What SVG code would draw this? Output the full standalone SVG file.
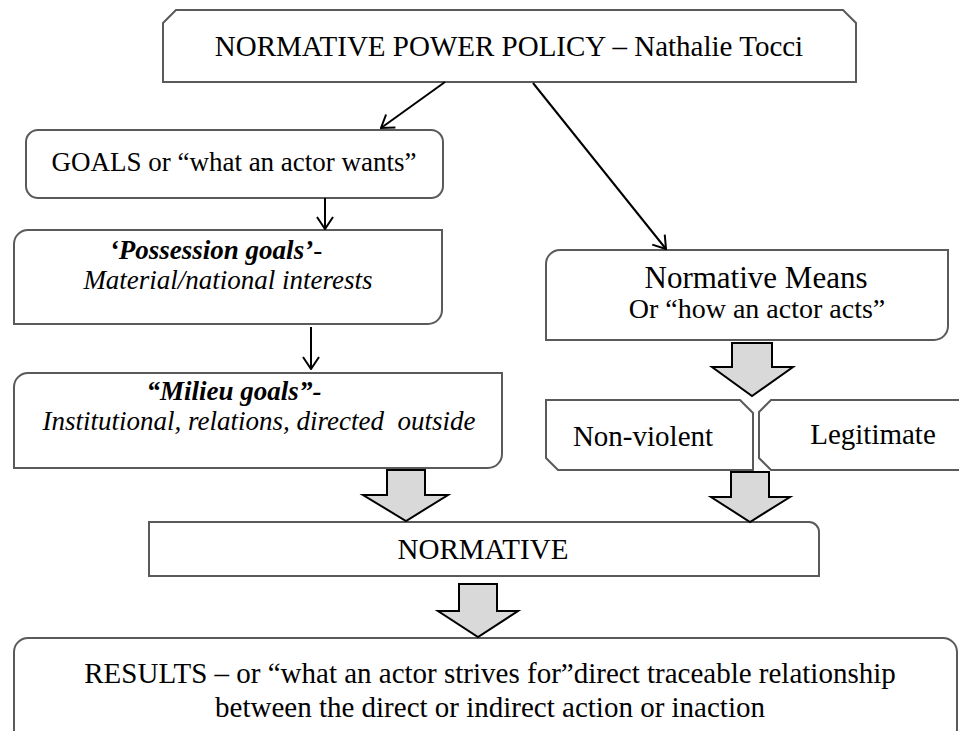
<svg xmlns="http://www.w3.org/2000/svg" width="959" height="731" viewBox="0 0 959 731">
<style>
.box{fill:#ffffff;stroke:#5a5a5a;stroke-width:2}
.blk{fill:#d9d9d9;stroke:#000000;stroke-width:2;stroke-linejoin:miter}
.ln{fill:none;stroke:#000000;stroke-width:2}
text{font-family:"Liberation Serif","Times New Roman",serif;fill:#000000;text-anchor:middle}
.it{font-style:italic}
.bi{font-style:italic;font-weight:bold}
</style>
<defs>
<marker id="v" viewBox="0 0 14 18" refX="13" refY="9" markerWidth="14" markerHeight="18" markerUnits="userSpaceOnUse" orient="auto">
<path d="M1,1 L13,9 L1,17" fill="none" stroke="#000" stroke-width="2"/>
</marker>
</defs>
<rect width="959" height="731" fill="#ffffff"/>

<g id="title">
<path class="box" d="M163,23 L176,10 L843,10 L856,23 L856,82 L163,82 Z"/>
<text x="509" y="56" font-size="29">NORMATIVE POWER POLICY – Nathalie Tocci</text>
</g>

<g id="goals">
<rect class="box" x="26" y="130" width="417" height="68" rx="12"/>
<text x="234" y="171" font-size="27">GOALS or “what an actor wants”</text>
</g>

<g id="possession">
<path class="box" d="M14,244 A14,14 0 0 1 28,230 L442,230 L442,310 A14,14 0 0 1 428,324 L14,324 Z"/>
<text x="216" y="259" font-size="27"><tspan class="bi">‘Possession goals’</tspan><tspan class="it">-</tspan></text>
<text class="it" x="228" y="289" font-size="27">Material/national interests</text>
</g>

<g id="milieu">
<path class="box" d="M14,387 A14,14 0 0 1 28,373 L502,373 L502,454 A14,14 0 0 1 488,468 L14,468 Z"/>
<text class="bi" x="234" y="400" font-size="27">“Milieu goals”-</text>
<text class="it" x="259" y="430" font-size="27" xml:space="preserve">Institutional, relations, directed  outside</text>
</g>

<g id="means">
<path class="box" d="M546,264 A14,14 0 0 1 560,250 L948,250 L948,326 A14,14 0 0 1 934,340 L546,340 Z"/>
<text x="756" y="288" font-size="31">Normative Means</text>
<text x="757" y="318" font-size="28">Or “how an actor acts”</text>
</g>

<g id="nonviolent">
<path class="box" d="M546,400 L740,400 L753,413 L753,470 L558,470 L546,458 Z"/>
<text x="643" y="446" font-size="29">Non-violent</text>
</g>

<g id="legitimate">
<path class="box" d="M759,412 L771,400 L972,400 L972,470 L771,470 L759,458 Z"/>
<text x="873" y="444" font-size="29">Legitimate</text>
</g>

<g id="normative">
<path class="box" d="M149,522 L809,522 A10,10 0 0 1 819,532 L819,576 L149,576 Z"/>
<text x="483" y="559" font-size="29">NORMATIVE</text>
</g>

<g id="results">
<path class="box" d="M14,745 L14,652 A14,14 0 0 1 28,638 L943,638 A14,14 0 0 1 957,652 L957,745"/>
<text x="490" y="683" font-size="29">RESULTS – or “what an actor strives for”direct traceable relationship</text>
<text x="490" y="717" font-size="29">between the direct or indirect action or inaction</text>
</g>

<g id="connectors">
<line class="ln" x1="445" y1="82" x2="381" y2="128" marker-end="url(#v)"/>
<line class="ln" x1="533" y1="83" x2="666" y2="249" marker-end="url(#v)"/>
<line class="ln" x1="325" y1="198" x2="325" y2="229" marker-end="url(#v)"/>
<line class="ln" x1="311" y1="327" x2="311" y2="369" marker-end="url(#v)"/>
<path class="blk" d="M732,343 L772,343 L772,367 L793,367 L752,396 L712,367 L732,367 Z"/>
<path class="blk" d="M387,470 L425,470 L425,495 L448,495 L406,521 L363,495 L387,495 Z"/>
<path class="blk" d="M731,472 L769,472 L769,497 L790,497 L750,522 L711,497 L731,497 Z"/>
<path class="blk" d="M459,584 L497,584 L497,611 L518,611 L478,637 L438,611 L459,611 Z"/>
</g>
</svg>
